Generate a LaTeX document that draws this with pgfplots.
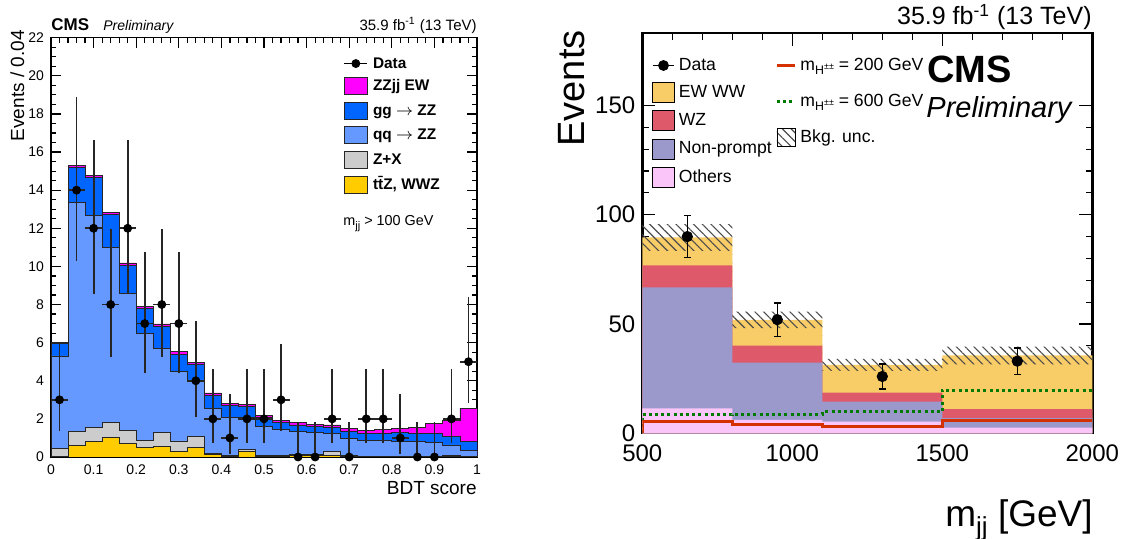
\documentclass[border=0pt]{standalone}
\usepackage{fontspec}
\setmainfont{Liberation Sans}
\usepackage{pgfplots}
\usepackage{pgfplotstable}
\pgfplotsset{compat=1.18}
\usetikzlibrary{patterns.meta}

\definecolor{cEW}{HTML}{FF00FF}
\definecolor{cgg}{HTML}{0066FF}
\definecolor{cqq}{HTML}{6699FF}
\definecolor{cZX}{HTML}{CCCCCC}
\definecolor{cttZ}{HTML}{FFCC00}
\definecolor{cWW}{HTML}{F8CC66}
\definecolor{cWZ}{HTML}{DE5A6A}
\definecolor{cNP}{HTML}{9B98CC}
\definecolor{cOth}{HTML}{FAC6FA}
\definecolor{cSa}{HTML}{D43000}
\definecolor{cSb}{HTML}{007A00}

\newcommand{\fs}[1]{\fontsize{#1}{#1}\selectfont}

\pgfplotsset{
  /pgf/number format/assume math mode=true,
  /pgf/number format/1000 sep={},
  lboxL/.style={legend image code/.code={\draw[##1] (0pt,-4.25pt) rectangle (11.5pt,4.25pt);}},
  ldataL/.style={legend image code/.code={\draw[black,line width=0.7pt] (0pt,0pt) -- (11.5pt,0pt); \fill[black] (5.75pt,0pt) circle (2pt);}},
  lboxR/.style={legend image code/.code={\fill[##1] (0pt,-5pt) rectangle (10.75pt,5pt);}},
  ldataR/.style={legend image code/.code={\draw[black,line width=0.6pt] (0pt,0pt) -- (10.75pt,0pt); \fill[black] (5.4pt,0pt) circle (2.5pt);}},
  llineR/.style={legend image code/.code={\draw[##1] (0pt,0pt) -- (9pt,0pt);}},
  lhatchR/.style={legend image code/.code={\fill[pattern={Lines[angle=-45,distance=3.1pt,line width=0.55pt]}, pattern color=black!70] (0pt,-4.5pt) rectangle (9pt,4.5pt);}},
}

% cumulative stack tops (left panel), bin lower edges
\pgfplotstableread{
x    yel  gry  lbl   blu   mag
0.00 0.03 0.46 5.30  5.97  6.03
0.04 0.60 1.35 13.36 15.20 15.30
0.08 0.80 1.54 12.66 14.65 14.78
0.12 1.03 1.80 10.98 12.72 12.84
0.16 0.72 1.38 8.59  10.05 10.18
0.20 0.52 0.86 6.49  7.78  7.92
0.24 0.55 1.31 5.70  6.84  6.98
0.28 0.31 0.84 4.48  5.40  5.52
0.32 0.51 1.07 4.04  4.88  4.98
0.36 0.12 0.20 2.55  3.22  3.36
0.40 0.05 0.10 2.08  2.69  2.82
0.44 0.28 0.40 2.06  2.64  2.76
0.48 0.05 0.08 1.59  2.08  2.17
0.52 0.03 0.06 1.42  1.82  1.90
0.56 0.08 0.12 1.33  1.68  1.80
0.60 0.10 0.14 1.28  1.59  1.71
0.64 0.08 0.28 1.24  1.56  1.68
0.68 0.03 0.06 0.98  1.33  1.50
0.72 0.02 0.04 0.86  1.21  1.38
0.76 0.02 0.04 0.86  1.24  1.42
0.80 0.02 0.04 0.80  1.28  1.49
0.84 0.02 0.04 0.80  1.24  1.54
0.88 0.02 0.04 0.75  1.24  1.77
0.92 0.04 0.06 0.63  1.10  1.94
0.96 0.02 0.04 0.33  0.80  2.55
1.00 0.02 0.04 0.33  0.80  2.55
}\leftstack

% cumulative stack tops (right panel), bin lower edges
\pgfplotstableread{
x    oth  np   wz   ww
500  11.4 66.7 76.8 89.6
800  6.1  32.3 40.1 51.9
1100 5.3  14.5 18.6 31.3
1500 2.6  6.9  11.0 35.6
2000 2.6  6.9  11.0 35.6
}\rightstack

\begin{document}
\begin{tikzpicture}[x=0.5pt,y=0.5pt]
\useasboundingbox (0,0) rectangle (1130,539);

%================ LEFT PANEL =================
\begin{axis}[
  at={(25.5pt,41pt)}, anchor=south west, scale only axis,
  width=213pt, height=209.65pt,
  xmin=0, xmax=1, ymin=0, ymax=22,
  xtick={0,0.1,0.2,0.3,0.4,0.5,0.6,0.7,0.8,0.9,1},
  xticklabels={0,0.1,0.2,0.3,0.4,0.5,0.6,0.7,0.8,0.9,1},
  minor x tick num=4,
  ytick={0,2,4,6,8,10,12,14,16,18,20,22},
  minor y tick num=3,
  tick align=inside, tick pos=both,
  major tick length=5pt, minor tick length=2.5pt,
  every tick/.style={black, line width=0.6pt},
  axis line style={line width=0.8pt},
  ticklabel style={font=\fs{7}},
  xticklabel style={yshift=-0.5pt},
  legend cell align=left,
  legend style={at={(0.686,0.956)}, anchor=north west, draw=none, fill=none,
    inner sep=0pt, font=\fs{7.7}\bfseries, row sep=3.3pt,
    nodes={inner xsep=2.5pt, inner ysep=0pt, text height=5.8pt, text depth=1.2pt}},
]
\addplot[const plot, fill=cEW, draw=black!85, line width=0.45pt, forget plot] table[x=x,y=mag]{\leftstack} \closedcycle;
\addplot[const plot, fill=cgg, draw=black!85, line width=0.45pt, forget plot] table[x=x,y=blu]{\leftstack} \closedcycle;
\addplot[const plot, fill=cqq, draw=black!85, line width=0.45pt, forget plot] table[x=x,y=lbl]{\leftstack} \closedcycle;
\addplot[const plot, fill=cZX, draw=black!85, line width=0.45pt, forget plot] table[x=x,y=gry]{\leftstack} \closedcycle;
\addplot[const plot, fill=cttZ, draw=black!85, line width=0.45pt, forget plot] table[x=x,y=yel]{\leftstack} \closedcycle;

\addplot[only marks, mark=*, mark size=2pt, black, forget plot,
  error bars/.cd, x dir=both, x explicit, y dir=both, y explicit,
  error bar style={line width=0.9pt, black!85}, error mark=none]
coordinates {
(0.02,3)  += (0.02,2.92) -= (0.02,1.63)
(0.06,14) += (0.02,4.90) -= (0.02,3.72)
(0.10,12) += (0.02,4.61) -= (0.02,3.44)
(0.14,8)  += (0.02,3.95) -= (0.02,2.77)
(0.18,12) += (0.02,4.61) -= (0.02,3.44)
(0.22,7)  += (0.02,3.77) -= (0.02,2.58)
(0.26,8)  += (0.02,3.95) -= (0.02,2.77)
(0.30,7)  += (0.02,3.77) -= (0.02,2.58)
(0.34,4)  += (0.02,3.16) -= (0.02,1.91)
(0.38,2)  += (0.02,2.64) -= (0.02,1.29)
(0.42,1)  += (0.02,2.30) -= (0.02,0.83)
(0.46,2)  += (0.02,2.64) -= (0.02,1.29)
(0.50,2)  += (0.02,2.64) -= (0.02,1.29)
(0.54,3)  += (0.02,2.92) -= (0.02,1.63)
(0.58,0)  += (0,1.84) -= (0,0)
(0.62,0)  += (0,1.84) -= (0,0)
(0.66,2)  += (0.02,2.64) -= (0.02,1.29)
(0.70,0)  += (0,1.84) -= (0,0)
(0.74,2)  += (0.02,2.64) -= (0.02,1.29)
(0.78,2)  += (0.02,2.64) -= (0.02,1.29)
(0.82,1)  += (0.02,2.30) -= (0.02,0.83)
(0.86,0)  += (0,1.84) -= (0,0)
(0.90,0)  += (0,1.84) -= (0,0)
(0.94,2)  += (0.02,2.64) -= (0.02,1.29)
(0.98,5)  += (0.02,3.38) -= (0.02,2.16)
};

\addlegendimage{ldataL}
\addlegendentry{Data}
\addlegendimage{lboxL, fill=cEW, draw=black!85, line width=0.5pt}
\addlegendentry{ZZjj EW}
\addlegendimage{lboxL, fill=cgg, draw=black!85, line width=0.5pt}
\addlegendentry{gg $\rightarrow$ ZZ}
\addlegendimage{lboxL, fill=cqq, draw=black!85, line width=0.5pt}
\addlegendentry{qq $\rightarrow$ ZZ}
\addlegendimage{lboxL, fill=cZX, draw=black!85, line width=0.5pt}
\addlegendentry{Z+X}
\addlegendimage{lboxL, fill=cttZ, draw=black!85, line width=0.5pt}
\addlegendentry{t\={t}Z, WWZ}
\end{axis}

%================ RIGHT PANEL =================
\begin{axis}[
  at={(321.15pt,52.85pt)}, anchor=south west, scale only axis,
  width=225pt, height=200pt,
  xmin=500, xmax=2000, ymin=0, ymax=183,
  xtick={500,1000,1500,2000},
  xticklabels={500,1000,1500,2000},
  minor x tick num=4,
  ytick={0,50,100,150},
  minor y tick num=4,
  tick align=inside, tick pos=both,
  major tick length=6.5pt, minor tick length=3.3pt,
  every tick/.style={black, line width=0.6pt},
  axis line style={line width=1.2pt},
  ticklabel style={font=\fs{12}},
  xticklabel style={yshift=-2pt},
  legend cell align=left,
  legend style={at={(0.0209,0.943)}, anchor=north west, draw=none, fill=none,
    inner sep=0pt, font=\fs{8.8}, row sep=3.75pt,
    nodes={inner xsep=2pt, inner ysep=0pt, text height=7pt, text depth=2pt}},
]
\addplot[const plot, fill=cWW, draw=none, forget plot] table[x=x,y=ww]{\rightstack} \closedcycle;
\addplot[const plot, fill=cWZ, draw=none, forget plot] table[x=x,y=wz]{\rightstack} \closedcycle;
\addplot[const plot, fill=cNP, draw=none, forget plot] table[x=x,y=np]{\rightstack} \closedcycle;
\addplot[const plot, fill=cOth, draw=none, forget plot] table[x=x,y=oth]{\rightstack} \closedcycle;

% background uncertainty band
\addplot[draw=none, forget plot, pattern={Lines[angle=-45,distance=3.1pt,line width=0.55pt]}, pattern color=black!70]
coordinates {(500,83.5) (500,95.7) (800,95.7) (800,55.7) (1100,55.7) (1100,34.1) (1500,34.1) (1500,39.7) (2000,39.7)
 (2000,31.5) (1500,31.5) (1500,28.5) (1100,28.5) (1100,48.1) (800,48.1) (800,83.5)} -- cycle;

% signals
\addplot[const plot, cSb, line width=1.5pt, dash pattern=on 1.5pt off 1.6pt, forget plot]
coordinates {(500,0) (500,8.4) (800,8.7) (1100,9.8) (1500,19.8) (2000,19.8)};
\addplot[const plot, cSa, line width=1.5pt, forget plot]
coordinates {(500,0) (500,5.6) (800,4.1) (1100,3.3) (1500,5.8) (2000,5.8)};

% data
\addplot[only marks, mark=*, mark size=2.6pt, black, forget plot,
  error bars/.cd, y dir=both, y explicit,
  error bar style={line width=0.6pt, black},
  error mark options={rotate=90, mark size=1.6pt, line width=0.6pt}]
coordinates {
(650,90) +- (0,9.5)
(950,52) +- (0,7.6)
(1300,26) +- (0,5.7)
(1750,33) +- (0,6.0)
};

\addlegendimage{ldataR}
\addlegendentry{Data}
\addlegendimage{lboxR, fill=cWW}
\addlegendentry{EW WW}
\addlegendimage{lboxR, fill=cWZ}
\addlegendentry{WZ}
\addlegendimage{lboxR, fill=cNP}
\addlegendentry{Non-prompt}
\addlegendimage{lboxR, fill=cOth}
\addlegendentry{Others}
\end{axis}

% second legend column of the right panel
\begin{axis}[
  at={(321.15pt,52.85pt)}, anchor=south west, scale only axis,
  width=225pt, height=200pt,
  xmin=500, xmax=2000, ymin=0, ymax=183, hide axis,
  legend cell align=left,
  legend style={at={(0.295,0.943)}, anchor=north west, draw=none, fill=none,
    inner sep=0pt, font=\fs{8.8}, row sep=9pt,
    nodes={inner xsep=2pt, inner ysep=0pt, text height=7pt, text depth=2pt}},
]
\addlegendimage{llineR, cSa, line width=1.5pt}
\addlegendentry{m\raisebox{-0.45ex}{\fs{6.2}H\raisebox{0.75ex}{\fs{4.5}±±}} = 200 GeV}
\addlegendimage{llineR, cSb, line width=1.5pt, dash pattern=on 1.5pt off 1.5pt}
\addlegendentry{m\raisebox{-0.45ex}{\fs{6.2}H\raisebox{0.75ex}{\fs{4.5}±±}} = 600 GeV}
\addlegendimage{lhatchR}
\addlegendentry{Bkg. unc.}
\end{axis}

%================ TEXT =================
% left
\node[anchor=base west, inner sep=0pt, font=\fs{8.5}\bfseries] at (51,508) {CMS};
\node[anchor=base west, inner sep=0pt, font=\fs{7}\itshape] at (103,508) {Preliminary};
\node[anchor=base east, inner sep=0pt, font=\fs{7.5}] at (477,508) {35.9 fb\textsuperscript{-1} (13 TeV)};
\node[rotate=90, anchor=north east, inner sep=0pt, font=\fs{9.5}] at (10,509) {Events / 0.04};
\node[anchor=base east, inner sep=0pt, font=\fs{9.5}] at (477,44) {BDT score};
\node[anchor=base west, inner sep=0pt, font=\fs{7.2}] at (343,313) {m\raisebox{-0.45ex}{\fs{5.5}jj} > 100 GeV};
% right
\node[rotate=90, anchor=north east, inner sep=0pt, font=\fs{19}] at (558,509) {Events};
\node[anchor=base east, inner sep=0pt, font=\fs{18.5}] at (1093,12) {m\raisebox{-0.45ex}{\fs{13}jj} [GeV]};
\node[anchor=base east, inner sep=0pt, font=\fs{12.5}] at (1092,514) {35.9 fb\textsuperscript{-1} (13 TeV)};
\node[anchor=base west, inner sep=0pt, font=\fs{19}\bfseries] at (927,456) {CMS};
\node[anchor=base west, inner sep=0pt, font=\fs{14.5}\itshape] at (926,421) {Preliminary};
\end{tikzpicture}
\end{document}
